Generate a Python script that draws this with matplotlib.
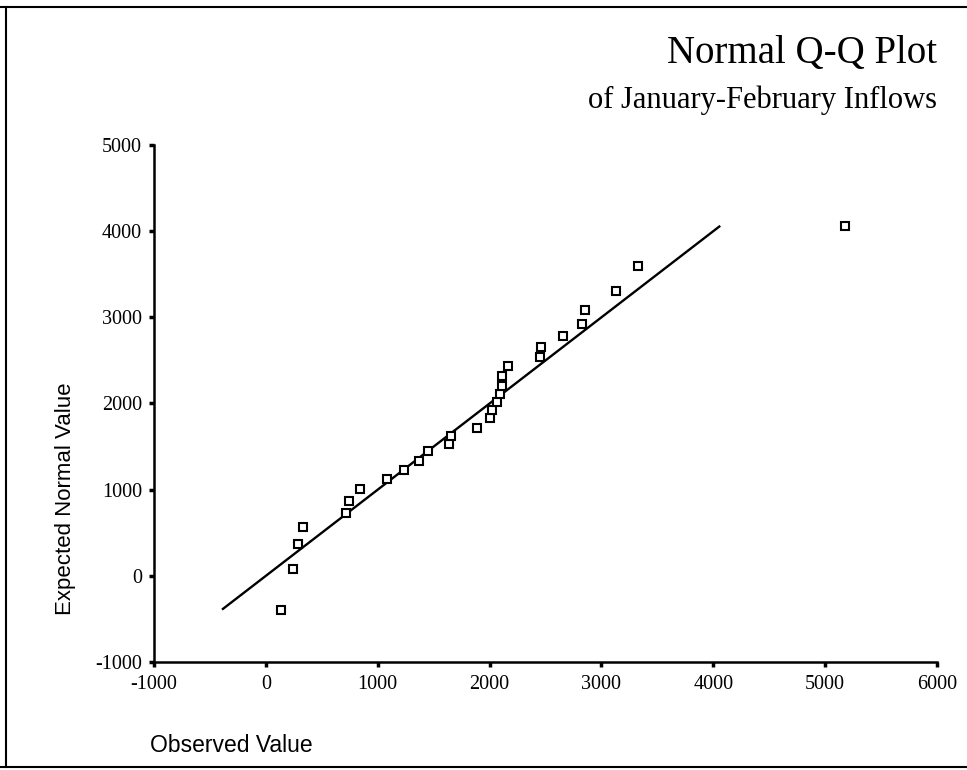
import matplotlib.pyplot as plt
from matplotlib.lines import Line2D

plt.rcParams['axes.unicode_minus'] = False

observed = [132, 240, 285, 330, 716, 746, 838, 1084, 1236, 1365, 1449, 1641,
            1653, 1884, 2000, 2018, 2066, 2095, 2111, 2108, 2168, 2453, 2462,
            2653, 2824, 2851, 3127, 3324, 5175]
expected = [-392, 85, 364, 565, 728, 868, 1007, 1120, 1224, 1337, 1449, 1535,
            1628, 1721, 1837, 1926, 2015, 2112, 2198, 2321, 2430, 2538, 2655,
            2779, 2926, 3088, 3309, 3597, 4062]
xticks = [-1000, 0, 1000, 2000, 3000, 4000, 5000, 6000]
yticks = [-1000, 0, 1000, 2000, 3000, 4000, 5000]

W, H = 967, 770
fig = plt.figure(figsize=(W / 100, H / 100), dpi=100)
ax = fig.add_axes([154 / W, 1 - 662 / H, (937 - 154) / W, (662 - 145) / H])

# reference line y = x over the range of expected values
lo, hi = min(expected), max(expected)
ax.plot([lo, hi], [lo, hi], color='black', lw=1.7, solid_capstyle='butt')
ax.plot(observed, expected, 's', ms=5.6, mfc='white', mec='black', mew=1.5,
        clip_on=False)

ax.set_xlim(-1000, 6000)
ax.set_ylim(-1000, 5000)
ax.set_xticks(xticks)
ax.set_yticks(yticks)
for s in ['top', 'right']:
    ax.spines[s].set_visible(False)
for s in ['left', 'bottom']:
    ax.spines[s].set_linewidth(1.8)
ax.tick_params(direction='out', length=3.5, width=2.5)
ax.tick_params(axis='x', pad=6)
ax.tick_params(axis='y', pad=5)
for lab in ax.get_xticklabels() + ax.get_yticklabels():
    lab.set_family('Liberation Serif')
    lab.set_fontsize(14.5)

fig.text(937 / W, 1 - 63 / H, 'Normal Q-Q Plot', ha='right', va='baseline',
         family='Liberation Serif', fontsize=28)
fig.text(937 / W, 1 - 108 / H, 'of January-February Inflows', ha='right',
         va='baseline', family='Liberation Serif', fontsize=22)
fig.text(65 / W, 1 - 499 / H, 'Expected Normal Value', rotation=90,
         ha='center', va='center', family='Liberation Sans', fontsize=16)
fig.text(150 / W, 1 - 745 / H, 'Observed Value', ha='left', va='center',
         family='Liberation Sans', fontsize=16.5)

# frame around the figure (top, left, bottom)
fig.add_artist(Line2D([0, 1], [1 - 7 / H, 1 - 7 / H], color='black', lw=1.5))
fig.add_artist(Line2D([6 / W, 6 / W], [1 - 7 / H, 1 - 767 / H], color='black', lw=1.5))
fig.add_artist(Line2D([0, 1], [1 - 767 / H, 1 - 767 / H], color='black', lw=1.5))

fig.savefig('out.png', dpi=100)
